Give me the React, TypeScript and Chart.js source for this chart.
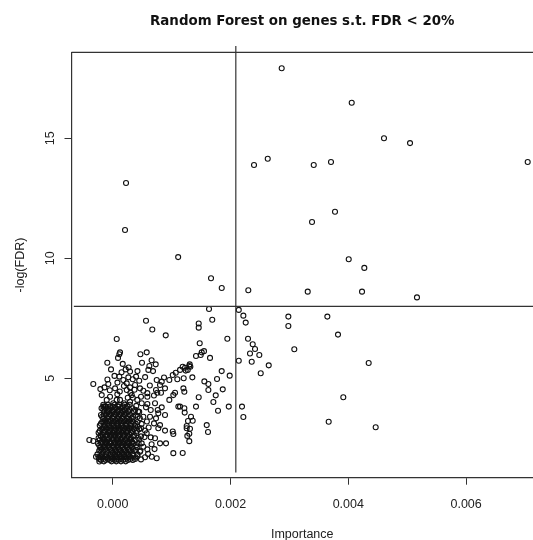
import { useEffect, useRef } from "react";
import { Chart, registerables } from "chart.js";

Chart.register(...registerables);

const titleText = "Random Forest on genes s.t. FDR < 20%";
const xLabel = "Importance";
const yLabel = "-log(FDR)";
const xTicks = [0, 0.002, 0.004, 0.006];
const yTicks = [5, 10, 15];
const importanceCut = 0.00209;
const fdrCut = 8;

// points above the FDR threshold
const upperPoints: [number, number][] = [
  [0.002869, 17.92], [0.004058, 16.48], [0.004606, 15.0], [0.005048, 14.8], [0.007046, 14.01],
  [0.002632, 14.15], [0.002399, 13.89], [0.003413, 13.89], [0.003706, 14.01], [0.003774, 11.94],
  [0.003384, 11.51], [0.004007, 9.96], [0.004272, 9.6], [0.001669, 9.17], [0.001851, 8.76],
  [0.002302, 8.67], [0.003311, 8.61], [0.004233, 8.61], [0.005166, 8.37], [0.001111, 10.05],
  [0.000226, 13.14], [0.000209, 11.18],
];

// right of the importance cut, below FDR threshold
const rightPoints: [number, number][] = [
  [0.00214, 7.85], [0.002218, 7.61], [0.002258, 7.32], [0.002982, 7.57], [0.002982, 7.18],
  [0.003644, 7.57], [0.003825, 6.82], [0.003083, 6.21], [0.004346, 5.64], [0.003915, 4.21],
  [0.003667, 3.19], [0.004465, 2.96], [0.002297, 6.65], [0.002377, 6.42], [0.002416, 6.22],
  [0.002489, 5.97], [0.002331, 6.03], [0.00236, 5.69], [0.002649, 5.54], [0.002513, 5.21],
  [0.00214, 5.73], [0.002195, 3.82], [0.002218, 3.39],
];

// medium importance
const midPoints: [number, number][] = [
  [0.001635, 7.89], [0.00169, 7.44], [0.00146, 7.28], [0.00146, 7.11], [0.001946, 6.65],
  [0.001477, 6.46], [0.001414, 5.93], [0.001494, 5.97], [0.00155, 6.13], [0.001511, 6.08],
  [0.001652, 5.85], [0.001188, 5.48], [0.001239, 5.32], [0.0013, 5.51], [0.001318, 5.48],
  [0.001143, 5.35], [0.00185, 5.3], [0.001986, 5.11], [0.001352, 5.04], [0.001771, 4.97],
  [0.001556, 4.87], [0.001624, 4.76], [0.0012, 4.58], [0.001216, 4.44], [0.001624, 4.51],
  [0.001868, 4.54], [0.001749, 4.29], [0.00146, 4.21], [0.001709, 4.01], [0.001143, 3.82],
  [0.001414, 3.82], [0.00197, 3.82], [0.001788, 3.65], [0.001222, 3.57], [0.001329, 3.4],
  [0.001358, 3.23], [0.001278, 3.22], [0.001256, 2.92], [0.001312, 2.9], [0.0013, 2.69],
  [0.0013, 2.38], [0.001596, 3.05], [0.001618, 2.76], [0.001188, 1.89], [0.001256, 3.01],
  [0.001267, 2.6],
];

// low importance, spread
const lowPoints: [number, number][] = [
  [0.000565, 7.4], [0.000672, 7.03], [0.0009, 6.79], [0.000068, 6.64], [0.000124, 6.08],
  [0.000112, 6.0], [0.000577, 6.08], [-0.000092, 5.65], [-0.000029, 5.37], [0.00017, 5.6],
  [0.00022, 5.37], [0.000294, 5.28], [0.000497, 5.65], [0.000622, 5.51], [0.00073, 5.58],
  [0.000605, 5.35], [0.000684, 5.3], [0.001307, 5.58], [0.001228, 5.44], [0.00107, 5.23],
  [0.001019, 5.14], [0.000871, 5.03], [0.000832, 4.86], [0.000961, 4.93], [0.001097, 4.96],
  [0.001205, 5.0], [0.001273, 5.35], [-0.00033, 4.76], [-0.000075, 4.76], [0.000078, 4.33],
  [0.000255, 4.19], [0.00034, 4.19], [0.00048, 4.23], [0.000588, 4.23], [0.000757, 4.4],
  [0.00082, 4.4], [0.000961, 4.1], [0.001114, 3.82], [0.001216, 3.75], [0.001029, 4.3],
  [0.001058, 4.4], [-0.00016, 3.82], [0.0, 3.82], [0.001019, 2.78], [0.001029, 2.68],
  [0.000803, 2.29], [0.000905, 2.29], [0.001029, 1.88], [0.000548, 1.71], [0.000747, 1.67],
  [0.000662, 1.73], [-0.000397, 2.43], [-0.00033, 2.39], [-0.000284, 1.73], [-0.000227, 1.53],
  [0.000803, 3.05], [0.000888, 2.82], [0.000424, 2.98], [0.00048, 2.92], [0.000548, 2.82],
  [0.000633, 3.4], [0.000735, 3.33], [0.000774, 3.54], [0.000832, 3.79], [0.000888, 3.47],
  [0.000418, 4.1], [0.000492, 3.96], [0.000565, 3.79], [0.000645, 3.68], [0.000379, 4.72],
  [0.000463, 4.58], [0.00052, 4.48], [0.000588, 4.38], [0.000238, 4.79], [0.000294, 4.62],
  [0.00034, 4.96], [0.000265, 5.04], [0.000396, 5.07], [0.000747, 4.93], [0.000803, 4.72],
  [0.000888, 4.58], [0.000735, 4.51], [0.000588, 3.93], [0.000718, 3.96], [0.000764, 3.68],
  [0.000701, 3.12], [0.000774, 2.92], [0.000577, 2.71], [0.000645, 2.54], [0.000718, 2.5],
  [0.000492, 2.29], [0.000588, 2.04], [0.000463, 1.94], [0.000112, 5.07], [0.00018, 4.93],
  [0.000238, 4.51], [0.000323, 4.3], [0.000124, 4.1], [0.000192, 3.96], [0.000068, 4.1],
  [0.00001, 3.96], [0.000095, 3.82], [0.000209, 3.68], [0.000294, 4.02], [-0.000187, 4.3],
  [-0.000102, 4.1], [-0.000046, 4.23], [-0.000131, 3.82],
  [-0.00021, 4.55], [-0.00014, 4.62], [-0.00005, 4.5], [0.00004, 4.58], [0.00012, 4.45],
  [0.00019, 4.68], [0.0003, 4.4], [0.00037, 4.52], [-0.00009, 4.95], [0.00003, 5.1],
  [0.00008, 4.82], [0.00015, 5.25], [0.00027, 5.45], [0.00042, 5.3], [0.00045, 4.9],
  [0.00055, 5.05], [0.00063, 4.7], [0.0007, 4.28], [0.00066, 5.75], [0.00047, 6.0],
  [0.00009, 5.85], [0.0004, 3.85], [0.00045, 3.6], [0.00052, 3.4], [0.00049, 3.1],
  [0.00058, 3.2], [0.00061, 2.95], [0.00054, 2.55], [0.00066, 2.25], [0.00071, 2.05],
  [0.00045, 2.45], [0.00052, 2.15], [0.0006, 1.85], [0.00042, 1.75], [0.00048, 1.62],
];

// dense core near zero importance
const corePoints: [number, number][] = [
  [-0.00016, 3.9], [-0.00008, 3.9], [0.00003, 3.9], [0.00011, 3.9], [0.0002, 3.9], [0.00029, 3.9],
  [-0.00019, 3.75], [-0.00012, 3.75], [-0.00004, 3.75], [0.00005, 3.75], [0.00014, 3.75], [0.00024, 3.75], [0.00033, 3.75],
  [-0.00014, 3.62], [-0.00007, 3.62], [0.00001, 3.62], [0.00009, 3.62], [0.00017, 3.62], [0.00026, 3.62], [0.00036, 3.62], [0.00043, 3.62],
  [-0.0002, 3.47], [-0.00011, 3.47], [-0.00003, 3.47], [0.00006, 3.47], [0.00013, 3.47], [0.00021, 3.47], [0.0003, 3.47], [0.00039, 3.47],
  [-0.00016, 3.33], [-0.00009, 3.33], [0.0, 3.33], [0.00008, 3.33], [0.00016, 3.33], [0.00024, 3.33], [0.00032, 3.33], [0.00046, 3.33],
  [-0.00018, 3.18], [-0.00012, 3.18], [-0.00005, 3.18], [0.00003, 3.18], [0.00011, 3.18], [0.00019, 3.18], [0.00027, 3.18], [0.00035, 3.18], [0.00042, 3.18],
  [-0.00022, 3.03], [-0.00014, 3.03], [-0.00006, 3.03], [0.00002, 3.03], [0.00009, 3.03], [0.00015, 3.03], [0.00022, 3.03], [0.0003, 3.03], [0.00038, 3.03],
  [-0.00019, 2.88], [-0.0001, 2.88], [-0.00002, 2.88], [0.00006, 2.88], [0.00013, 2.88], [0.0002, 2.88], [0.00028, 2.88], [0.00036, 2.88], [0.00045, 2.88],
  [-0.00024, 2.73], [-0.00016, 2.73], [-0.00007, 2.73], [0.0, 2.73], [0.00008, 2.73], [0.00016, 2.73], [0.00024, 2.73], [0.00032, 2.73], [0.0004, 2.73],
  [-0.0002, 2.58], [-0.00013, 2.58], [-0.00004, 2.58], [0.00004, 2.58], [0.00011, 2.58], [0.00019, 2.58], [0.00026, 2.58], [0.00034, 2.58], [0.00048, 2.58],
  [-0.00022, 2.43], [-0.00015, 2.43], [-0.00008, 2.43], [0.00001, 2.43], [0.00007, 2.43], [0.00014, 2.43], [0.00022, 2.43], [0.0003, 2.43], [0.00039, 2.43],
  [-0.00025, 2.28], [-0.00017, 2.28], [-0.0001, 2.28], [-0.00003, 2.28], [0.00005, 2.28], [0.00012, 2.28], [0.0002, 2.28], [0.00028, 2.28], [0.00035, 2.28], [0.00044, 2.28],
  [-0.00021, 2.13], [-0.00014, 2.13], [-0.00006, 2.13], [0.00002, 2.13], [0.00009, 2.13], [0.00017, 2.13], [0.00025, 2.13], [0.00033, 2.13], [0.00041, 2.13],
  [-0.00023, 1.98], [-0.00016, 1.98], [-0.00009, 1.98], [-0.00001, 1.98], [0.00006, 1.98], [0.00014, 1.98], [0.00022, 1.98], [0.0003, 1.98], [0.00037, 1.98], [0.00047, 1.98],
  [-0.00026, 1.83], [-0.00018, 1.83], [-0.00011, 1.83], [-0.00004, 1.83], [0.00004, 1.83], [0.00011, 1.83], [0.00019, 1.83], [0.00027, 1.83], [0.00034, 1.83], [0.00042, 1.83],
  [-0.00024, 1.7], [-0.00017, 1.7], [-0.00008, 1.7], [0.0, 1.7], [0.00008, 1.7], [0.00015, 1.7], [0.00023, 1.7], [0.00031, 1.7], [0.00039, 1.7],
  [-0.0002, 1.6], [-0.00012, 1.6], [-0.00005, 1.6], [0.00003, 1.6], [0.0001, 1.6], [0.00018, 1.6], [0.00026, 1.6], [0.00034, 1.6],
  [-0.0001, 3.55], [-0.00002, 3.55], [0.00007, 3.55], [0.00015, 3.55], [0.00022, 3.55],
  [-0.00013, 3.25], [-0.00004, 3.25], [0.00004, 3.25], [0.00012, 3.25], [0.0002, 3.25], [0.00028, 3.25],
  [-0.00015, 2.95], [-0.00006, 2.95], [0.00002, 2.95], [0.0001, 2.95], [0.00017, 2.95], [0.00025, 2.95], [0.00032, 2.95],
  [-0.00017, 2.65], [-0.00009, 2.65], [-0.00002, 2.65], [0.00005, 2.65], [0.00012, 2.65], [0.0002, 2.65], [0.00029, 2.65],
  [-0.00018, 2.35], [-0.00011, 2.35], [-0.00004, 2.35], [0.00004, 2.35], [0.00011, 2.35], [0.00018, 2.35], [0.00026, 2.35], [0.00033, 2.35],
  [-0.00019, 2.05], [-0.00012, 2.05], [-0.00005, 2.05], [0.00003, 2.05], [0.0001, 2.05], [0.00018, 2.05], [0.00026, 2.05], [0.00034, 2.05],
  [-0.0002, 1.76], [-0.00013, 1.76], [-0.00004, 1.76], [0.00004, 1.76], [0.00012, 1.76], [0.00019, 1.76], [0.00027, 1.76], [0.00035, 1.76],
  [0.0, 1.9], [0.00008, 1.9], [0.00016, 1.9], [0.00024, 1.9],
  [-0.00012, 3.83], [-0.00004, 3.83], [0.00009, 3.83], [0.00017, 3.83], [0.00025, 3.83],
  [-0.00016, 3.69], [-0.00008, 3.69], [0.0, 3.69], [0.0001, 3.69], [0.00019, 3.69], [0.00028, 3.69], [0.00038, 3.69],
  [-0.00018, 3.4], [-0.00007, 3.4], [0.00002, 3.4], [0.0001, 3.4], [0.00018, 3.4], [0.00026, 3.4], [0.00035, 3.4], [0.00042, 3.4],
  [-0.0002, 3.11], [-0.00009, 3.11], [-0.00001, 3.11], [0.00007, 3.11], [0.00014, 3.11], [0.00023, 3.11], [0.00031, 3.11], [0.00039, 3.11],
  [-0.00022, 2.81], [-0.00014, 2.81], [-0.00005, 2.81], [0.00003, 2.81], [0.0001, 2.81], [0.00018, 2.81], [0.00025, 2.81], [0.00033, 2.81], [0.00041, 2.81],
  [-0.00024, 2.51], [-0.00017, 2.51], [-0.00006, 2.51], [0.00001, 2.51], [0.00008, 2.51], [0.00016, 2.51], [0.00024, 2.51], [0.00031, 2.51], [0.00043, 2.51],
  [-0.00023, 2.21], [-0.00013, 2.21], [-0.00007, 2.21], [0.00001, 2.21], [0.00008, 2.21], [0.00016, 2.21], [0.00023, 2.21], [0.00031, 2.21], [0.0004, 2.21],
  [-0.00023, 1.64], [-0.00016, 1.64], [-0.00008, 1.64], [0.0, 1.64], [0.00007, 1.64], [0.00014, 1.64], [0.00022, 1.64], [0.0003, 1.64], [0.00038, 1.64],
  [-0.00015, 1.54], [-0.00002, 1.54], [0.00006, 1.54], [0.00014, 1.54], [0.00022, 1.54],
  [-0.00015, 3.5], [-0.00006, 3.5], [0.00003, 3.5], [0.00011, 3.5], [0.00019, 3.5], [0.00027, 3.5],
  [-0.00016, 3.21], [-0.00008, 3.21], [0.0, 3.21], [0.00008, 3.21], [0.00015, 3.21], [0.00023, 3.21], [0.00033, 3.21],
  [-0.00017, 2.91], [-0.00012, 2.91], [-0.00004, 2.91], [0.00004, 2.91], [0.00012, 2.91], [0.00021, 2.91], [0.00029, 2.91],
  [-0.00021, 2.62], [-0.00011, 2.62], [-0.00005, 2.62], [0.00002, 2.62], [0.00009, 2.62], [0.00017, 2.62], [0.00025, 2.62], [0.00036, 2.62],
  [-0.0002, 2.32], [-0.00013, 2.32], [-0.00006, 2.32], [0.00002, 2.32], [0.00009, 2.32], [0.00015, 2.32], [0.00024, 2.32], [0.00032, 2.32],
  [-0.00021, 2.02], [-0.00014, 2.02], [-0.00003, 2.02], [0.00005, 2.02], [0.00012, 2.02], [0.0002, 2.02], [0.00028, 2.02], [0.00039, 2.02],
  [-0.00021, 1.73], [-0.0001, 1.73], [-0.00002, 1.73], [0.00006, 1.73], [0.00013, 1.73], [0.00021, 1.73], [0.00029, 1.73],
];

const vLine = [{ x: importanceCut, y: 1.07 }, { x: importanceCut, y: 18.85 }];
const hLine = [{ x: -0.00066, y: fdrCut }, { x: 0.0075, y: fdrCut }];

const tickFont = { family: "'Liberation Sans', Arial, sans-serif", size: 12.5, lineHeight: 1.2 };
const ink = "#222";

const boxPlugin = {
  id: "boxTop",
  afterDraw(chart: any) {
    const { ctx, chartArea } = chart;
    ctx.save();
    ctx.strokeStyle = "#333";
    ctx.lineWidth = 1.2;
    ctx.beginPath();
    ctx.moveTo(chartArea.left, chartArea.top);
    ctx.lineTo(chartArea.right + 5, chartArea.top);
    ctx.stroke();
    ctx.restore();
  },
};

export default function App() {
  const ref = useRef<HTMLCanvasElement>(null);
  useEffect(() => {
    const all = [...upperPoints, ...rightPoints, ...midPoints, ...lowPoints, ...corePoints].map(
      ([x, y]) => ({ x, y })
    );
    const chart = new Chart(ref.current as HTMLCanvasElement, {
      type: "scatter",
      data: {
        datasets: [
          {
            data: vLine,
            showLine: true,
            pointRadius: 0,
            borderColor: "#333",
            borderWidth: 1.2,
            clip: false,
          } as any,
          {
            data: hLine,
            showLine: true,
            pointRadius: 0,
            borderColor: "#333",
            borderWidth: 1.2,
            clip: false,
          } as any,
          {
            data: all,
            pointRadius: 2.5,
            pointBorderWidth: 1.1,
            borderColor: "#111",
            backgroundColor: "rgba(0,0,0,0)",
            pointBackgroundColor: "rgba(0,0,0,0)",
            pointBorderColor: "#111",
          } as any,
        ],
      },
      options: {
        animation: false,
        responsive: true,
        maintainAspectRatio: false,
        events: [],
        layout: { padding: 0, autoPadding: false },
        plugins: {
          legend: { display: false },
          tooltip: { enabled: false },
          title: {
            display: true,
            text: titleText,
            fullSize: false,
            color: "#111",
            font: { family: "'DejaVu Sans', sans-serif", size: 13.4, weight: "bold", lineHeight: 1.2 },
            padding: { top: 13, bottom: 23.3 },
          },
        },
        scales: {
          x: {
            type: "linear",
            min: -0.0007,
            max: 0.007136,
            afterBuildTicks: (s: any) => {
              s.ticks = xTicks.map((v) => ({ value: v }));
            },
            afterFit: (s: any) => {
              s.height = 62.3;
            },
            ticks: {
              callback: (v: any) => Number(v).toFixed(3),
              font: tickFont,
              color: ink,
              padding: 12,
              autoSkip: false,
              maxRotation: 0,
              minRotation: 0,
            },
            grid: { display: true, drawOnChartArea: false, drawTicks: true, tickLength: 7, color: "#333", lineWidth: 1 },
            border: { display: true, color: "#333", width: 1.2 },
            title: {
              display: true,
              text: xLabel,
              color: ink,
              font: tickFont,
              padding: { top: 0, bottom: -2 },
            },
          },
          y: {
            type: "linear",
            min: 0.858,
            max: 18.58,
            afterBuildTicks: (s: any) => {
              s.ticks = yTicks.map((v) => ({ value: v }));
            },
            afterFit: (s: any) => {
              s.width = 71.5;
            },
            ticks: {
              callback: (v: any) => String(v),
              font: tickFont,
              color: ink,
              padding: 7.5,
              autoSkip: false,
              minRotation: 90,
              maxRotation: 90,
              crossAlign: "center",
            },
            grid: { display: true, drawOnChartArea: false, drawTicks: true, tickLength: 7, color: "#333", lineWidth: 1 },
            border: { display: true, color: "#333", width: 1.2 },
            title: {
              display: true,
              text: yLabel,
              color: ink,
              font: tickFont,
              padding: { top: 13.5, bottom: 0 },
            },
          },
        },
      } as any,
      plugins: [boxPlugin],
    });
    return () => chart.destroy();
  }, []);
  return (
    <div style={{ position: "fixed", left: 0, top: 0, width: 533, height: 540, background: "#fff", overflow: "hidden" }}>
      <canvas ref={ref} />
    </div>
  );
}
